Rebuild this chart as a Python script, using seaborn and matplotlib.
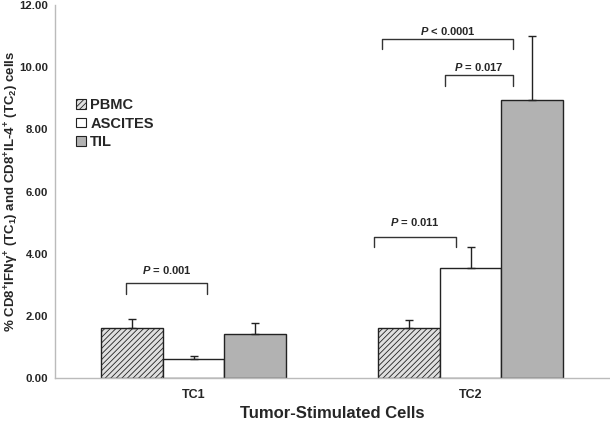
import matplotlib
matplotlib.use("Agg")
import matplotlib.pyplot as plt
import seaborn as sns
import pandas as pd
from matplotlib.patches import Patch

categories = ["TC1", "TC2"]
groups = ["PBMC", "ASCITES", "TIL"]
pbmc = [1.62, 1.60]
ascites = [0.62, 3.55]
til = [1.42, 8.95]
pbmc_err = [0.28, 0.26]
ascites_err = [0.10, 0.66]
til_err = [0.35, 2.05]

# significance brackets: (category index, x offset start, x offset end, top, leg bottom, text y, label)
brackets = [
    (0, -0.244, 0.049, 3.06, 2.70, 3.47, "= 0.001"),
    (1, -0.348, -0.052, 4.54, 4.21, 5.02, "= 0.011"),
    (1, -0.092, 0.153, 9.75, 9.40, 10.01, "= 0.017"),
    (1, -0.319, 0.153, 10.91, 10.59, 11.16, "< 0.0001"),
]

sns.set_style("white")
plt.rcParams['font.family'] = ['Liberation Sans', 'DejaVu Sans']
plt.rcParams['font.weight'] = 'bold'
plt.rcParams['hatch.color'] = '#444444'
plt.rcParams['hatch.linewidth'] = 0.6
plt.rcParams['mathtext.fontset'] = 'custom'
plt.rcParams['mathtext.rm'] = 'Liberation Sans:bold'
plt.rcParams['mathtext.bf'] = 'Liberation Sans:bold'
plt.rcParams['mathtext.it'] = 'Liberation Sans:bold:italic'
plt.rcParams['mathtext.default'] = 'rm'

rows = []
for g, vals, errs in zip(groups, [pbmc, ascites, til], [pbmc_err, ascites_err, til_err]):
    for c, v, e in zip(categories, vals, errs):
        rows.append({"cell": c, "group": g, "value": v, "err": e})
df = pd.DataFrame(rows)

colors = {"PBMC": "#e0e0e0", "ASCITES": "#ffffff", "TIL": "#b2b2b2"}

fig = plt.figure(figsize=(6.1, 4.25), dpi=100)
ax = fig.add_axes([55/610, 1-378/425, 554/610, 373/425])
sns.barplot(data=df, x="cell", y="value", hue="group", order=categories,
            hue_order=groups, palette=colors, edgecolor="#222222", linewidth=1.0,
            width=0.67, errorbar=None, ax=ax, legend=False, saturation=1)

bars = [p for p in ax.patches if p.get_height() > 0]
for g_i, g in enumerate(groups):
    sub = df[df.group == g]
    for c_i, c in enumerate(categories):
        p = bars[g_i * len(categories) + c_i]
        if g == "PBMC":
            p.set_hatch("//////")
        e = sub[sub.cell == c].err.values[0]
        xc = p.get_x() + p.get_width() / 2
        h = p.get_height()
        ax.errorbar([xc], [h], yerr=[[0], [e]], fmt="none", ecolor="#222222",
                    elinewidth=1.0, capsize=3, capthick=1.0)

for ci, x0, x1, top, bot, ty, lab in brackets:
    ax.plot([ci + x0, ci + x0, ci + x1, ci + x1], [bot, top, top, bot],
            color="#333333", lw=1.0)
    ax.text(ci + (x0 + x1) / 2, ty, r"$\it{P}$ " + lab, ha="center",
            va="center", fontsize=8, fontweight="bold")

ax.set_xlim(-0.5, 1.5)
ax.set_ylim(0, 12)
ax.set_yticks([0, 2, 4, 6, 8, 10, 12])
ax.set_yticklabels([f"{v:.2f}" for v in [0, 2, 4, 6, 8, 10, 12]], fontsize=8.2, fontweight="bold")
ax.set_xticks([0, 1])
ax.set_xticklabels(categories, fontsize=9, fontweight="bold")
ax.tick_params(axis="y", length=3, color="#bbbbbb", pad=2)
ax.tick_params(axis="x", length=0, pad=8)
for s in ["top", "right"]:
    ax.spines[s].set_visible(False)
for s in ["left", "bottom"]:
    ax.spines[s].set_color("#bbbbbb")
    ax.spines[s].set_linewidth(1.0)

ax.set_xlabel("Tumor-Stimulated Cells", fontsize=12, fontweight="bold")
ax.xaxis.set_label_coords(0.5, -0.075)
ax.set_ylabel(r"% CD8$^{+}$IFNγ$^{+}$ (TC$_{1}$) and CD8$^{+}$IL-4$^{+}$ (TC$_{2}$) cells",
              fontsize=9.5, fontweight="bold")
ax.yaxis.set_label_coords(-0.062, 0.50)

handles = [Patch(facecolor=colors[g], edgecolor="#222222", linewidth=0.8,
                 hatch="//////" if g == "PBMC" else None) for g in groups]
leg = ax.legend(handles, groups, loc="upper left", bbox_to_anchor=(0.015, 0.785),
                frameon=False, handlelength=0.65, handleheight=0.65, handletextpad=0.3,
                labelspacing=0.3, prop={"size": 10.5, "weight": "bold"})

fig.savefig("out.png", dpi=100)
